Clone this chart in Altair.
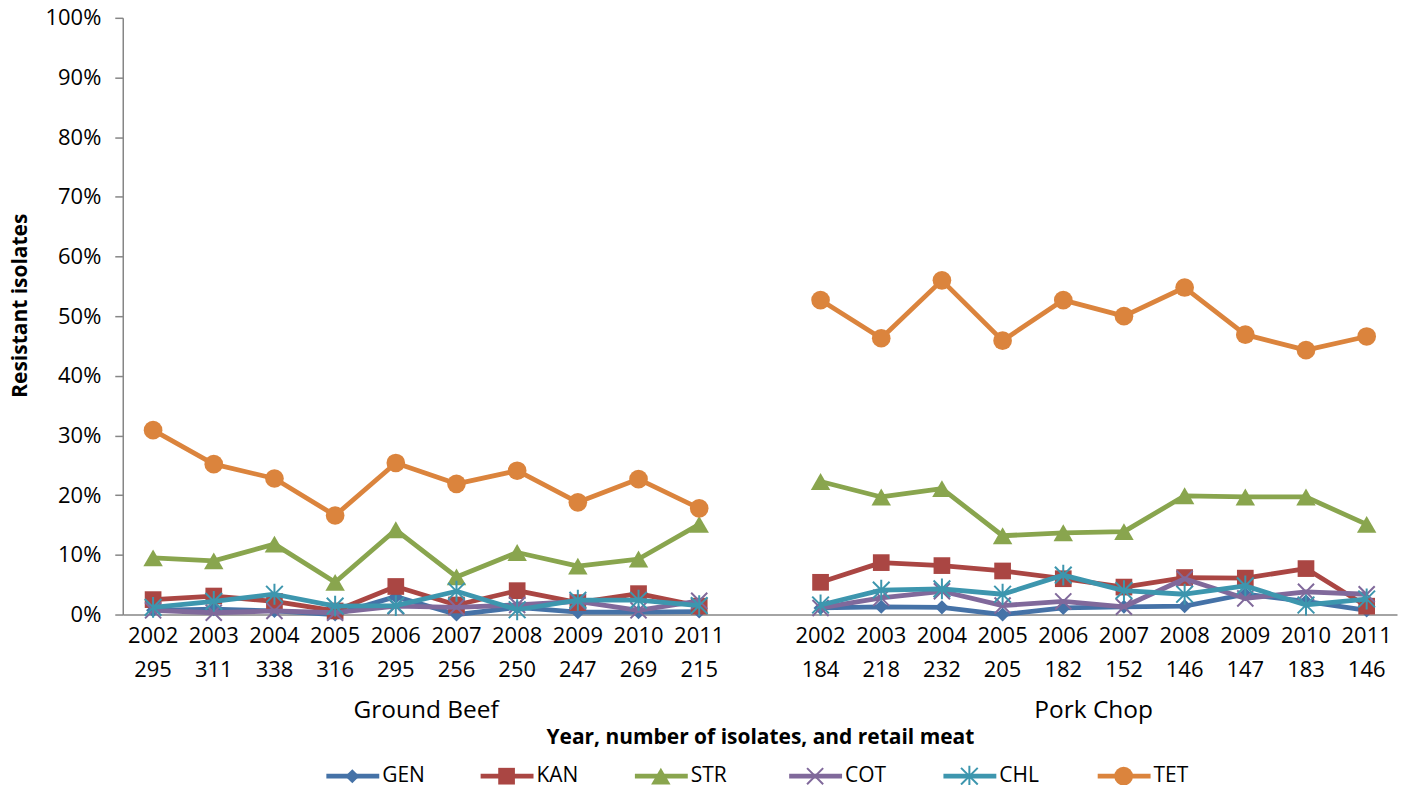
import altair as alt
import pandas as pd

# ---------------- data ----------------
SERIES = ["GEN", "KAN", "STR", "COT", "CHL", "TET"]
COLORS = ["#4572A7", "#AA4643", "#89A54E", "#80699B", "#3D96AE", "#DB843D"]

YEARS = [2002, 2003, 2004, 2005, 2006, 2007, 2008, 2009, 2010, 2011]
GROUPS = ["Ground Beef", "Pork Chop"]
N_GB = [295, 311, 338, 316, 295, 256, 250, 247, 269, 215]
N_PC = [184, 218, 232, 205, 182, 152, 146, 147, 183, 146]

GEN_GB = [0.7, 0.9, 0.6, 0.0, 3.0, 0.0, 1.2, 0.4, 0.4, 0.5]
KAN_GB = [2.5, 3.1, 2.2, 0.6, 4.7, 1.6, 4.0, 2.0, 3.5, 1.4]
STR_GB = [9.5, 9.0, 11.8, 5.4, 14.2, 6.3, 10.4, 8.1, 9.3, 15.1]
COT_GB = [0.7, 0.3, 0.6, 0.3, 1.4, 1.2, 1.6, 2.2, 0.7, 2.3]
CHL_GB = [1.2, 2.2, 3.4, 1.4, 1.5, 3.9, 0.8, 2.4, 2.4, 1.5]
TET_GB = [30.9, 25.2, 22.8, 16.6, 25.4, 21.9, 24.1, 18.8, 22.7, 17.8]

GEN_PC = [1.1, 1.3, 1.2, 0.0, 1.1, 1.3, 1.4, 3.4, 2.2, 0.7]
KAN_PC = [5.4, 8.7, 8.2, 7.3, 6.0, 4.6, 6.2, 6.1, 7.7, 1.4]
STR_PC = [22.3, 19.7, 21.1, 13.2, 13.7, 13.9, 19.9, 19.7, 19.7, 15.1]
COT_PC = [1.1, 2.8, 3.9, 1.5, 2.2, 1.3, 6.0, 2.7, 3.8, 3.4]
CHL_PC = [1.6, 4.1, 4.3, 3.4, 6.6, 4.0, 3.4, 4.8, 1.6, 2.6]
TET_PC = [52.7, 46.3, 56.0, 45.9, 52.7, 50.0, 54.8, 46.9, 44.3, 46.6]

VALUES = {
    "GEN": (GEN_GB, GEN_PC),
    "KAN": (KAN_GB, KAN_PC),
    "STR": (STR_GB, STR_PC),
    "COT": (COT_GB, COT_PC),
    "CHL": (CHL_GB, CHL_PC),
    "TET": (TET_GB, TET_PC),
}

# slot index of each category (one empty slot between the two groups)
GB_IDX = list(range(len(YEARS)))
PC_IDX = [len(YEARS) + 1 + i for i in range(len(YEARS))]

rows = []
for s in SERIES:
    gb, pc = VALUES[s]
    for i, v in zip(GB_IDX, gb):
        rows.append({"series": s, "group": GROUPS[0], "idx": i, "value": v / 100})
    for i, v in zip(PC_IDX, pc):
        rows.append({"series": s, "group": GROUPS[1], "idx": i, "value": v / 100})
df = pd.DataFrame(rows)

lab_rows = []
for i, y, n in zip(GB_IDX, YEARS, N_GB):
    lab_rows.append({"idx": i, "year": str(y), "n": str(n)})
for i, y, n in zip(PC_IDX, YEARS, N_PC):
    lab_rows.append({"idx": i, "year": str(y), "n": str(n)})
labels_df = pd.DataFrame(lab_rows)

group_df = pd.DataFrame({
    "group": GROUPS,
    "idx": [sum(GB_IDX) / len(GB_IDX), sum(PC_IDX) / len(PC_IDX)],
})

legend_df = pd.DataFrame({"series": SERIES, "pos": list(range(len(SERIES)))})

# ---------------- style ----------------
W, H = 1277, 598
FONT = "Open Sans"
AXIS_GRAY = "#868686"
X_PATH = "M-1,-1L1,1M-1,1L1,-1"
STAR_PATH = "M-1,-1L1,1M-1,1L1,-1M0,-1.25L0,1.25"
SHAPES = {
    "GEN": ("diamond", 200, True),
    "KAN": ("square", 280, True),
    "STR": ("triangle-up", 380, True),
    "COT": (X_PATH, 260, False),
    "CHL": (STAR_PATH, 280, False),
    "TET": ("circle", 350, True),
}

x_scale = alt.Scale(domain=[-0.5, len(GB_IDX) + len(PC_IDX) + 0.5], nice=False, zero=False)
y_scale = alt.Scale(domain=[0, 1], nice=False)

x_axis = alt.Axis(
    title="Year, number of isolates, and retail meat",
    labels=False, ticks=False, grid=False,
    domainColor=AXIS_GRAY, domainWidth=1.5,
    titleFont=FONT, titleFontSize=21, titleFontWeight="bold", titleColor="#000",
    titleY=123, titleBaseline="middle",
)
y_axis = alt.Axis(
    title="Resistant isolates",
    values=[i / 10 for i in range(11)], format=".0%", grid=False,
    domainColor=AXIS_GRAY, domainWidth=1.5,
    tickColor=AXIS_GRAY, tickSize=8, tickWidth=1.5,
    labelFont=FONT, labelFontSize=22, labelColor="#000", labelPadding=14,
    titleFont=FONT, titleFontSize=21, titleFontWeight="bold", titleColor="#000",
    titleX=-102, titleY=288, titleBaseline="middle", titleAngle=-90,
)

X = alt.X("idx:Q", scale=x_scale, axis=x_axis)
Y = alt.Y("value:Q", scale=y_scale, axis=y_axis)

base = alt.Chart(df)
layers = []
for s, col in zip(SERIES, COLORS):
    sel = base.transform_filter(alt.datum.series == s)
    line = sel.mark_line(strokeWidth=4.8, color=col, strokeJoin="round").encode(
        x=X, y=Y, detail="group:N", order="idx:Q"
    )
    shape, size, filled = SHAPES[s]
    if filled:
        pts = sel.mark_point(shape=shape, size=size, filled=True, fill=col,
                             strokeWidth=0, opacity=1)
    else:
        pts = sel.mark_point(shape=shape, size=size, filled=False, stroke=col,
                             strokeWidth=2, opacity=1)
    pts = pts.encode(x=X, y=Y)
    layers += [line, pts]

year_txt = alt.Chart(labels_df).mark_text(font=FONT, fontSize=22, color="#000",
                                           baseline="middle").encode(
    x=X, y=alt.value(H + 22), text="year:N")
n_txt = alt.Chart(labels_df).mark_text(font=FONT, fontSize=22, color="#000",
                                        baseline="middle").encode(
    x=X, y=alt.value(H + 56), text="n:N")
grp_txt = alt.Chart(group_df).mark_text(font=FONT, fontSize=24.5, color="#000",
                                         baseline="middle").encode(
    x=X, y=alt.value(H + 97), text="group:N")

main = alt.layer(*layers, year_txt, n_txt, grp_txt)

# ---------------- legend (own linear scale over item positions) ----------------
leg_scale = alt.Scale(domain=[-1.488, 6.772], nice=False, zero=False)
LX = alt.X("pos:Q", scale=leg_scale, axis=None)
leg_y = H + 162
leg_layers = []
for s, col in zip(SERIES, COLORS):
    lb = alt.Chart(legend_df).transform_filter(alt.datum.series == s)
    rule = lb.mark_rule(strokeWidth=4.8, color=col, xOffset=-26, x2Offset=27).encode(
        x=LX, x2="pos:Q", y=alt.value(leg_y))
    shape, size, filled = SHAPES[s]
    if filled:
        p = lb.mark_point(shape=shape, size=size, filled=True, fill=col,
                          strokeWidth=0, opacity=1)
    else:
        p = lb.mark_point(shape=shape, size=size, filled=False, stroke=col,
                          strokeWidth=2, opacity=1)
    p = p.encode(x=LX, y=alt.value(leg_y))
    t = lb.mark_text(font=FONT, fontSize=21, color="#000", align="left",
                     baseline="middle", dx=30).encode(
        x=LX, y=alt.value(leg_y), text="series:N")
    leg_layers += [rule, p, t]
legend = alt.layer(*leg_layers)

chart = alt.layer(main, legend).resolve_scale(x="independent").properties(
    width=W, height=H,
    background="white",
    autosize=alt.AutoSizeParams(type="none"),
    padding={"left": 115, "top": 9, "right": 5, "bottom": 170},
).configure_view(stroke=None)

chart.save("out.html", embed_options={"renderer": "svg", "actions": False})
